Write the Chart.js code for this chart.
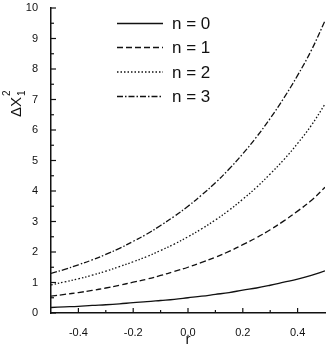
<!DOCTYPE html>
<html>
<head>
<meta charset="utf-8">
<script src="https://cdn.jsdelivr.net/npm/chart.js@4"></script>
<style>
html,body{margin:0;padding:0;background:#fff;}
#wrap{width:332px;height:345px;position:relative;}
</style>
</head>
<body>
<div id="wrap"><canvas id="c" width="332" height="345"></canvas></div>
<script>
// squeeze parameter r
const rValues = [-0.5,-0.45,-0.4,-0.35,-0.3,-0.25,-0.2,-0.15,-0.1,-0.05,0,0.05,0.1,0.15,0.2,0.25,0.3,0.35,0.4,0.45,0.5];
const n0 = [0.18,0.20,0.22,0.25,0.27,0.30,0.34,0.37,0.41,0.45,0.50,0.55,0.61,0.67,0.75,0.82,0.91,1.01,1.11,1.23,1.38];
const n1 = [0.55,0.61,0.67,0.74,0.82,0.91,1.01,1.11,1.23,1.36,1.50,1.66,1.83,2.02,2.24,2.47,2.73,3.02,3.34,3.69,4.12];
const n2 = [0.92,1.02,1.12,1.24,1.37,1.52,1.68,1.85,2.05,2.26,2.50,2.76,3.05,3.37,3.73,4.12,4.56,5.03,5.56,6.15,6.85];
const n3 = [1.30,1.43,1.58,1.74,1.92,2.12,2.35,2.59,2.87,3.17,3.50,3.87,4.27,4.72,5.22,5.77,6.38,7.05,7.79,8.61,9.58];
const seriesLabels = ['n = 0','n = 1','n = 2','n = 3'];
const xTicks = [-0.4,-0.2,0,0.2,0.4];
const xMinorTicks = [-0.3,-0.1,0.1,0.3];
const yTicks = [0,1,2,3,4,5,6,7,8,9,10];
const yMinorTicks = [0.5,1.5,2.5,3.5,4.5,5.5,6.5,7.5,8.5,9.5];
const xTitle = 'r';

const dashes = [[], [6,3], [1.5,2], [6,2,1.5,2]];
const FONT = '"Liberation Sans", Arial, sans-serif';
const toPts = arr => arr.map((v,i)=>({x:rValues[i], y:v}));

const datasets = [n0,n1,n2,n3].map((arr,i)=>({
  label: seriesLabels[i],
  data: toPts(arr),
  borderColor: '#111',
  borderWidth: 1.3,
  borderDash: dashes[i],
  pointRadius: 0,
  tension: 0.4,
  fill: false
}));

const decor = {
  id: 'decor',
  afterDraw(chart) {
    const ctx = chart.ctx;
    const xs = chart.scales.x, ys = chart.scales.y;
    const ca = chart.chartArea;
    ctx.save();
    ctx.strokeStyle = '#111';
    ctx.lineWidth = 1.2;
    ctx.setLineDash([]);
    const tick = (x1,y1,x2,y2)=>{ctx.beginPath();ctx.moveTo(x1,y1);ctx.lineTo(x2,y2);ctx.stroke();};
    xTicks.forEach(v=>{const p=xs.getPixelForValue(v); tick(p,ca.bottom,p,ca.bottom-5);});
    xMinorTicks.forEach(v=>{const p=xs.getPixelForValue(v); tick(p,ca.bottom,p,ca.bottom-3);});
    yTicks.forEach(v=>{const p=ys.getPixelForValue(v); tick(ca.left,p,ca.left+5,p);});
    yMinorTicks.forEach(v=>{const p=ys.getPixelForValue(v); tick(ca.left,p,ca.left+3,p);});
    // x title
    ctx.fillStyle = '#111';
    ctx.font = '15px ' + FONT;
    ctx.textAlign = 'center';
    ctx.textBaseline = 'alphabetic';
    ctx.fillText(xTitle, xs.getPixelForValue(0), 344);
    // y title rotated
    ctx.save();
    ctx.translate(21, 117);
    ctx.rotate(-Math.PI/2);
    ctx.textAlign = 'left';
    ctx.font = '15px ' + FONT;
    ctx.fillText('\u0394X', 0, 0);
    const w = ctx.measureText('\u0394X').width;
    ctx.font = '10px ' + FONT;
    ctx.fillText('1', w+1, 4);
    ctx.fillText('2', w+1, -11);
    ctx.restore();
    // legend
    ctx.font = '17px ' + FONT;
    ctx.textAlign = 'left';
    ctx.textBaseline = 'middle';
    const ly = [23.5, 47.5, 72, 96.5];
    chart.data.datasets.forEach((ds,i)=>{
      ctx.save();
      ctx.lineWidth = 1.3;
      ctx.setLineDash(ds.borderDash);
      ctx.beginPath(); ctx.moveTo(117, ly[i]); ctx.lineTo(163, ly[i]); ctx.stroke();
      ctx.restore();
      ctx.fillText(ds.label, 172, ly[i]+1);
    });
    ctx.restore();
  }
};

new Chart(document.getElementById('c'), {
  type: 'line',
  data: { datasets },
  plugins: [decor],
  options: {
    responsive: false,
    animation: false,
    devicePixelRatio: 1,
    layout: { padding: { top: 8, right: 7, left: 0, bottom: 0 } },
    plugins: { legend: { display: false }, tooltip: { enabled: false } },
    scales: {
      x: {
        type: 'linear', min: -0.5, max: 0.5,
        afterBuildTicks: s => { s.ticks = xTicks.map(v=>({value:v})); },
        afterFit: s => { s.height = 32; s.paddingLeft = 0; s.paddingRight = 0; },
        grid: { display: false },
        border: { display: true, color: '#111', width: 1.5 },
        ticks: { color: '#111', font: { size: 11, family: FONT }, padding: 5, maxRotation: 0,
                 callback: v => v.toFixed(1) }
      },
      y: {
        type: 'linear', min: 0, max: 10,
        afterBuildTicks: s => { s.ticks = yTicks.map(v=>({value:v})); },
        afterFit: s => { s.width = 51; s.paddingTop = 0; s.paddingBottom = 0; },
        grid: { display: false },
        border: { display: true, color: '#111', width: 1.5 },
        ticks: { color: '#111', font: { size: 11, family: FONT }, padding: 5 }
      }
    }
  }
});
</script>
</body>
</html>
